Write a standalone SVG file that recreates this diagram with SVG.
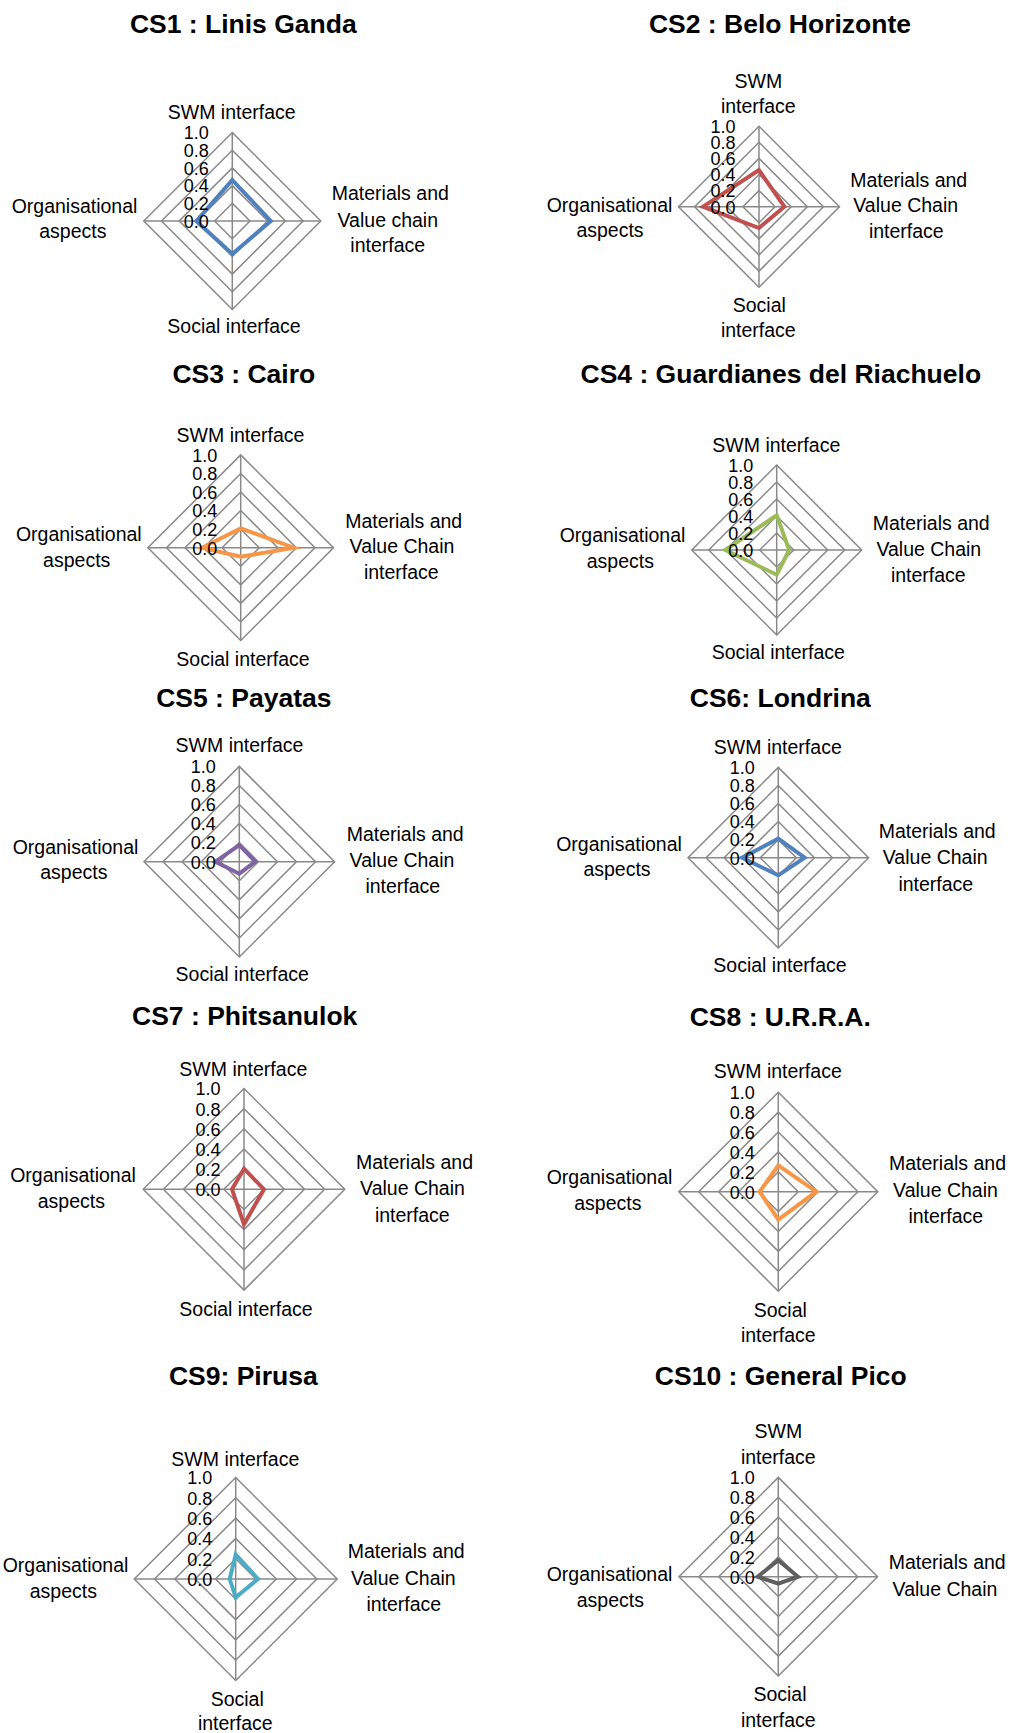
<svg xmlns="http://www.w3.org/2000/svg" width="1011" height="1733" viewBox="0 0 1011 1733">
<style>
.bg{fill:#ffffff}
.grid{fill:none;stroke:#898989;stroke-width:1.5}
.tk{font-family:"Liberation Sans",Arial,sans-serif;font-size:18px;fill:#000;text-anchor:end}
.lb{font-family:"Liberation Sans",Arial,sans-serif;font-size:19.5px;fill:#000;text-anchor:middle}
.tt{font-family:"Liberation Sans",Arial,sans-serif;font-size:26.5px;font-weight:bold;fill:#000;text-anchor:middle}
.data{fill:none;stroke-width:4;stroke-linejoin:miter}
</style>
<rect class="bg" x="0" y="0" width="1011" height="1733"/>

<g id="cs1">
<text class="tt" x="243.3" y="33.3">CS1 : Linis Ganda</text>
<g transform="translate(232.3,221)">
<polygon class="grid" points="0,-17.7 17.7,0 0,17.7 -17.7,0"/>
<polygon class="grid" points="0,-35.4 35.4,0 0,35.4 -35.4,0"/>
<polygon class="grid" points="0,-53.1 53.1,0 0,53.1 -53.1,0"/>
<polygon class="grid" points="0,-70.8 70.8,0 0,70.8 -70.8,0"/>
<polygon class="grid" points="0,-88.5 88.5,0 0,88.5 -88.5,0"/>
<path class="grid" d="M0,-88.5V88.5M-88.5,0H88.5"/>
<polygon class="data" stroke="#4F81BD" points="0,-41 38.5,0 0,33 -36,0"/>
<text class="tk" x="-23.5" y="-81.7">1.0</text><text class="tk" x="-23.5" y="-64">0.8</text><text class="tk" x="-23.5" y="-46.3">0.6</text><text class="tk" x="-23.5" y="-28.6">0.4</text><text class="tk" x="-23.5" y="-10.9">0.2</text><text class="tk" x="-23.5" y="6.8">0.0</text>
</g>
<text class="lb" x="231.7" y="119">SWM interface</text>
<text class="lb" x="390.3" y="200">Materials and</text>
<text class="lb" x="387.8" y="226.7">Value chain</text>
<text class="lb" x="387.7" y="252">interface</text>
<text class="lb" x="74.5" y="213.3">Organisational</text>
<text class="lb" x="72.8" y="238.3">aspects</text>
<text class="lb" x="234" y="333.3">Social interface</text>
</g>

<g id="cs2">
<text class="tt" x="780" y="33.3">CS2 : Belo Horizonte</text>
<g transform="translate(759,206.7)">
<polygon class="grid" points="0,-16.1 16.1,0 0,16.1 -16.1,0"/>
<polygon class="grid" points="0,-32.2 32.2,0 0,32.2 -32.2,0"/>
<polygon class="grid" points="0,-48.3 48.3,0 0,48.3 -48.3,0"/>
<polygon class="grid" points="0,-64.4 64.4,0 0,64.4 -64.4,0"/>
<polygon class="grid" points="0,-80.5 80.5,0 0,80.5 -80.5,0"/>
<path class="grid" d="M0,-80.5V80.5M-80.5,0H80.5"/>
<polygon class="data" stroke="#C0504D" points="0,-36.6 25.4,0 0,21.3 -56,0"/>
<text class="tk" x="-23.5" y="-73.7">1.0</text><text class="tk" x="-23.5" y="-57.6">0.8</text><text class="tk" x="-23.5" y="-41.5">0.6</text><text class="tk" x="-23.5" y="-25.4">0.4</text><text class="tk" x="-23.5" y="-9.3">0.2</text><text class="tk" x="-23.5" y="6.8">0.0</text>
</g>
<text class="lb" x="758.3" y="88.3">SWM</text>
<text class="lb" x="758.3" y="113.3">interface</text>
<text class="lb" x="908.7" y="186.7">Materials and</text>
<text class="lb" x="905.7" y="212.3">Value Chain</text>
<text class="lb" x="906.3" y="238.3">interface</text>
<text class="lb" x="609.5" y="211.7">Organisational</text>
<text class="lb" x="610" y="237.3">aspects</text>
<text class="lb" x="759.3" y="311.7">Social</text>
<text class="lb" x="758.3" y="336.7">interface</text>
</g>

<g id="cs3">
<text class="tt" x="243.8" y="383.3">CS3 : Cairo</text>
<g transform="translate(240.7,547.7)">
<polygon class="grid" points="0,-18.56 18.56,0 0,18.56 -18.56,0"/>
<polygon class="grid" points="0,-37.12 37.12,0 0,37.12 -37.12,0"/>
<polygon class="grid" points="0,-55.68 55.68,0 0,55.68 -55.68,0"/>
<polygon class="grid" points="0,-74.24 74.24,0 0,74.24 -74.24,0"/>
<polygon class="grid" points="0,-92.8 92.8,0 0,92.8 -92.8,0"/>
<path class="grid" d="M0,-92.8V92.8M-92.8,0H92.8"/>
<polygon class="data" stroke="#F79646" points="0,-19.3 53,0 0,9 -38.7,0"/>
<text class="tk" x="-23.5" y="-86">1.0</text><text class="tk" x="-23.5" y="-67.4">0.8</text><text class="tk" x="-23.5" y="-48.9">0.6</text><text class="tk" x="-23.5" y="-30.3">0.4</text><text class="tk" x="-23.5" y="-11.8">0.2</text><text class="tk" x="-23.5" y="6.8">0.0</text>
</g>
<text class="lb" x="240.5" y="441.7">SWM interface</text>
<text class="lb" x="403.7" y="527.7">Materials and</text>
<text class="lb" x="402" y="553.3">Value Chain</text>
<text class="lb" x="401.3" y="579">interface</text>
<text class="lb" x="78.8" y="541">Organisational</text>
<text class="lb" x="76.7" y="566.7">aspects</text>
<text class="lb" x="243" y="665.7">Social interface</text>
</g>

<g id="cs4">
<text class="tt" x="780.8" y="383.3">CS4 : Guardianes del Riachuelo</text>
<g transform="translate(776.7,550)">
<polygon class="grid" points="0,-17 17,0 0,17 -17,0"/>
<polygon class="grid" points="0,-34 34,0 0,34 -34,0"/>
<polygon class="grid" points="0,-51 51,0 0,51 -51,0"/>
<polygon class="grid" points="0,-68 68,0 0,68 -68,0"/>
<polygon class="grid" points="0,-85 85,0 0,85 -85,0"/>
<path class="grid" d="M0,-85V85M-85,0H85"/>
<polygon class="data" stroke="#9BBB59" points="0,-34.7 12.5,0 0,24.7 -51.4,0"/>
<text class="tk" x="-23.5" y="-78.2">1.0</text><text class="tk" x="-23.5" y="-61.2">0.8</text><text class="tk" x="-23.5" y="-44.2">0.6</text><text class="tk" x="-23.5" y="-27.2">0.4</text><text class="tk" x="-23.5" y="-10.2">0.2</text><text class="tk" x="-23.5" y="6.8">0.0</text>
</g>
<text class="lb" x="776.3" y="452.3">SWM interface</text>
<text class="lb" x="931.2" y="530">Materials and</text>
<text class="lb" x="928.8" y="556">Value Chain</text>
<text class="lb" x="928.3" y="582.3">interface</text>
<text class="lb" x="622.5" y="542.3">Organisational</text>
<text class="lb" x="620.3" y="568.3">aspects</text>
<text class="lb" x="778.3" y="659">Social interface</text>
</g>

<g id="cs5">
<text class="tt" x="243.8" y="706.7">CS5 : Payatas</text>
<g transform="translate(239.3,861.7)">
<polygon class="grid" points="0,-19.06 19.06,0 0,19.06 -19.06,0"/>
<polygon class="grid" points="0,-38.12 38.12,0 0,38.12 -38.12,0"/>
<polygon class="grid" points="0,-57.18 57.18,0 0,57.18 -57.18,0"/>
<polygon class="grid" points="0,-76.24 76.24,0 0,76.24 -76.24,0"/>
<polygon class="grid" points="0,-95.3 95.3,0 0,95.3 -95.3,0"/>
<path class="grid" d="M0,-95.3V95.3M-95.3,0H95.3"/>
<polygon class="data" stroke="#8064A2" points="0,-16.5 16,0 0,12 -24,0"/>
<text class="tk" x="-23.5" y="-88.5">1.0</text><text class="tk" x="-23.5" y="-69.4">0.8</text><text class="tk" x="-23.5" y="-50.4">0.6</text><text class="tk" x="-23.5" y="-31.3">0.4</text><text class="tk" x="-23.5" y="-12.3">0.2</text><text class="tk" x="-23.5" y="6.8">0.0</text>
</g>
<text class="lb" x="239.5" y="752.3">SWM interface</text>
<text class="lb" x="405.2" y="840.7">Materials and</text>
<text class="lb" x="402" y="866.7">Value Chain</text>
<text class="lb" x="402.8" y="893.3">interface</text>
<text class="lb" x="75.5" y="854">Organisational</text>
<text class="lb" x="73.8" y="879">aspects</text>
<text class="lb" x="242.2" y="981">Social interface</text>
</g>

<g id="cs6">
<text class="tt" x="780.3" y="706.7">CS6: Londrina</text>
<g transform="translate(778.3,857.7)">
<polygon class="grid" points="0,-18.06 18.06,0 0,18.06 -18.06,0"/>
<polygon class="grid" points="0,-36.12 36.12,0 0,36.12 -36.12,0"/>
<polygon class="grid" points="0,-54.18 54.18,0 0,54.18 -54.18,0"/>
<polygon class="grid" points="0,-72.24 72.24,0 0,72.24 -72.24,0"/>
<polygon class="grid" points="0,-90.3 90.3,0 0,90.3 -90.3,0"/>
<path class="grid" d="M0,-90.3V90.3M-90.3,0H90.3"/>
<polygon class="data" stroke="#4F81BD" points="0,-19 26.4,0 0,17.6 -36.3,0"/>
<text class="tk" x="-23.5" y="-83.5">1.0</text><text class="tk" x="-23.5" y="-65.4">0.8</text><text class="tk" x="-23.5" y="-47.4">0.6</text><text class="tk" x="-23.5" y="-29.3">0.4</text><text class="tk" x="-23.5" y="-11.3">0.2</text><text class="tk" x="-23.5" y="6.8">0.0</text>
</g>
<text class="lb" x="777.8" y="754.3">SWM interface</text>
<text class="lb" x="937.2" y="837.7">Materials and</text>
<text class="lb" x="935.2" y="864">Value Chain</text>
<text class="lb" x="935.8" y="890.7">interface</text>
<text class="lb" x="619" y="851">Organisational</text>
<text class="lb" x="617" y="876">aspects</text>
<text class="lb" x="780" y="972.3">Social interface</text>
</g>

<g id="cs7">
<text class="tt" x="244.7" y="1025">CS7 : Phitsanulok</text>
<g transform="translate(244,1189.3)">
<polygon class="grid" points="0,-20.16 20.16,0 0,20.16 -20.16,0"/>
<polygon class="grid" points="0,-40.32 40.32,0 0,40.32 -40.32,0"/>
<polygon class="grid" points="0,-60.48 60.48,0 0,60.48 -60.48,0"/>
<polygon class="grid" points="0,-80.64 80.64,0 0,80.64 -80.64,0"/>
<polygon class="grid" points="0,-100.8 100.8,0 0,100.8 -100.8,0"/>
<path class="grid" d="M0,-100.8V100.8M-100.8,0H100.8"/>
<polygon class="data" stroke="#C0504D" points="0,-20.6 20,0 0,35 -12,0"/>
<text class="tk" x="-23.5" y="-94">1.0</text><text class="tk" x="-23.5" y="-73.8">0.8</text><text class="tk" x="-23.5" y="-53.7">0.6</text><text class="tk" x="-23.5" y="-33.5">0.4</text><text class="tk" x="-23.5" y="-13.4">0.2</text><text class="tk" x="-23.5" y="6.8">0.0</text>
</g>
<text class="lb" x="243.3" y="1076">SWM interface</text>
<text class="lb" x="414.5" y="1169">Materials and</text>
<text class="lb" x="412.5" y="1195">Value Chain</text>
<text class="lb" x="412.3" y="1221.7">interface</text>
<text class="lb" x="73" y="1181.7">Organisational</text>
<text class="lb" x="71.3" y="1207.7">aspects</text>
<text class="lb" x="246" y="1315.7">Social interface</text>
</g>

<g id="cs8">
<text class="tt" x="780.3" y="1026">CS8 : U.R.R.A.</text>
<g transform="translate(778.3,1191.7)">
<polygon class="grid" points="0,-19.9 19.9,0 0,19.9 -19.9,0"/>
<polygon class="grid" points="0,-39.8 39.8,0 0,39.8 -39.8,0"/>
<polygon class="grid" points="0,-59.7 59.7,0 0,59.7 -59.7,0"/>
<polygon class="grid" points="0,-79.6 79.6,0 0,79.6 -79.6,0"/>
<polygon class="grid" points="0,-99.5 99.5,0 0,99.5 -99.5,0"/>
<path class="grid" d="M0,-99.5V99.5M-99.5,0H99.5"/>
<polygon class="data" stroke="#F79646" points="0,-26.4 38,0 0,28 -18.6,0"/>
<text class="tk" x="-23.5" y="-92.7">1.0</text><text class="tk" x="-23.5" y="-72.8">0.8</text><text class="tk" x="-23.5" y="-52.9">0.6</text><text class="tk" x="-23.5" y="-33">0.4</text><text class="tk" x="-23.5" y="-13.1">0.2</text><text class="tk" x="-23.5" y="6.8">0.0</text>
</g>
<text class="lb" x="777.8" y="1078.3">SWM interface</text>
<text class="lb" x="947.5" y="1170">Materials and</text>
<text class="lb" x="945.5" y="1196.7">Value Chain</text>
<text class="lb" x="945.8" y="1222.7">interface</text>
<text class="lb" x="609.5" y="1184.3">Organisational</text>
<text class="lb" x="607.8" y="1210">aspects</text>
<text class="lb" x="780.3" y="1316.7">Social</text>
<text class="lb" x="778.3" y="1342">interface</text>
</g>

<g id="cs9">
<text class="tt" x="243.3" y="1385">CS9: Pirusa</text>
<g transform="translate(235.7,1579)">
<polygon class="grid" points="0,-20.3 20.3,0 0,20.3 -20.3,0"/>
<polygon class="grid" points="0,-40.6 40.6,0 0,40.6 -40.6,0"/>
<polygon class="grid" points="0,-60.9 60.9,0 0,60.9 -60.9,0"/>
<polygon class="grid" points="0,-81.2 81.2,0 0,81.2 -81.2,0"/>
<polygon class="grid" points="0,-101.5 101.5,0 0,101.5 -101.5,0"/>
<path class="grid" d="M0,-101.5V101.5M-101.5,0H101.5"/>
<polygon class="data" stroke="#4BACC6" points="0,-24.3 22.3,0 0,18.3 -6,0"/>
<text class="tk" x="-23.5" y="-94.7">1.0</text><text class="tk" x="-23.5" y="-74.4">0.8</text><text class="tk" x="-23.5" y="-54.1">0.6</text><text class="tk" x="-23.5" y="-33.8">0.4</text><text class="tk" x="-23.5" y="-13.5">0.2</text><text class="tk" x="-23.5" y="6.8">0.0</text>
</g>
<text class="lb" x="235.3" y="1466">SWM interface</text>
<text class="lb" x="406.2" y="1558.3">Materials and</text>
<text class="lb" x="403.3" y="1585">Value Chain</text>
<text class="lb" x="403.8" y="1611">interface</text>
<text class="lb" x="65.5" y="1572.3">Organisational</text>
<text class="lb" x="63.3" y="1597.7">aspects</text>
<text class="lb" x="237.2" y="1705.7">Social</text>
<text class="lb" x="235.3" y="1730">interface</text>
</g>

<g id="cs10">
<text class="tt" x="780.8" y="1385">CS10 : General Pico</text>
<g transform="translate(778.3,1576.7)">
<polygon class="grid" points="0,-19.86 19.86,0 0,19.86 -19.86,0"/>
<polygon class="grid" points="0,-39.72 39.72,0 0,39.72 -39.72,0"/>
<polygon class="grid" points="0,-59.58 59.58,0 0,59.58 -59.58,0"/>
<polygon class="grid" points="0,-79.44 79.44,0 0,79.44 -79.44,0"/>
<polygon class="grid" points="0,-99.3 99.3,0 0,99.3 -99.3,0"/>
<path class="grid" d="M0,-99.3V99.3M-99.3,0H99.3"/>
<polygon class="data" stroke="#5F5F5F" points="0,-16.5 19.7,0 0,7 -20.6,0"/>
<text class="tk" x="-23.5" y="-92.5">1.0</text><text class="tk" x="-23.5" y="-72.6">0.8</text><text class="tk" x="-23.5" y="-52.8">0.6</text><text class="tk" x="-23.5" y="-32.9">0.4</text><text class="tk" x="-23.5" y="-13.1">0.2</text><text class="tk" x="-23.5" y="6.8">0.0</text>
</g>
<text class="lb" x="778.3" y="1438.3">SWM</text>
<text class="lb" x="778.3" y="1464">interface</text>
<text class="lb" x="947.2" y="1569.3">Materials and</text>
<text class="lb" x="945" y="1595.7">Value Chain</text>
<text class="lb" x="609.5" y="1580.7">Organisational</text>
<text class="lb" x="610.3" y="1607.3">aspects</text>
<text class="lb" x="780" y="1700.7">Social</text>
<text class="lb" x="778.3" y="1726.7">interface</text>
</g>
</svg>
